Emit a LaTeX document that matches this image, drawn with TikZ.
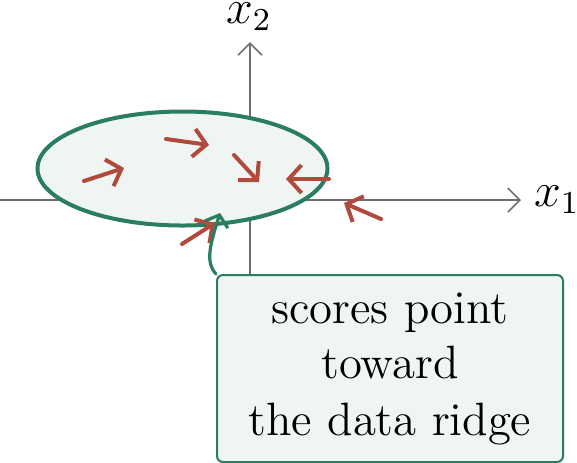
\documentclass[tikz,border=0pt]{standalone}
\usetikzlibrary{arrows.meta,shapes.geometric}
\definecolor{ridgegreen}{RGB}{42,125,94}
\definecolor{ridgefill}{RGB}{238,245,242}
\definecolor{scorered}{RGB}{176,74,60}
\definecolor{axisgray}{RGB}{110,110,110}
\tikzset{
  axisline/.style={draw=axisgray, line width=0.4pt, -{Straight Barb[length=3pt,width=6pt]}},
  axislabel/.style={font=\large, inner sep=0pt},
  scorearrow/.style={draw=scorered, line width=1pt, line cap=round, -{Straight Barb[length=3.2pt,width=7pt]}},
  ridge/.style={draw=ridgegreen, fill=ridgefill, line width=1pt, ellipse, inner sep=0pt,
    minimum width=72.5pt, minimum height=28.5pt},
  notebox/.style={draw=ridgegreen, fill=ridgefill, line width=0.5pt, rounded corners=1.5pt,
    minimum width=86.5pt, minimum height=46.75pt, align=center, font=\fontsize{11.7}{14}\selectfont, inner sep=0pt},
  pointer/.style={draw=ridgegreen, line width=0.8pt, line cap=round, -{Straight Barb[length=2.5pt,width=6pt]}}
}
\begin{document}
\begin{tikzpicture}[x=0.25pt,y=-0.25pt]
\useasboundingbox (0,0) rectangle (577,462);
% axes
\coordinate (xs) at (0,200);
\coordinate (xe) at (521,200);
\coordinate (ys) at (250,300);
\coordinate (ye) at (250,42);
\draw[axisline] (xs) -- (xe);
\draw[axisline] (ys) -- (ye);
\node[axislabel] (xone) at (557,200) {$x_1$};
\node[axislabel] (xtwo) at (249,17) {$x_2$};
% ridge
\node[ridge] (ridgeell) at (182.5,168.5) {};
% score arrows
\coordinate (a1s) at (84,181); \coordinate (a1e) at (124,168);
\coordinate (a2s) at (166,139); \coordinate (a2e) at (209,145);
\coordinate (a3s) at (234,155); \coordinate (a3e) at (259,182);
\coordinate (a4s) at (329,179); \coordinate (a4e) at (286,179);
\coordinate (a5s) at (381,219); \coordinate (a5e) at (344,203);
\coordinate (a6s) at (182,244); \coordinate (a6e) at (215,223);
\draw[scorearrow] (a1s) -- (a1e);
\draw[scorearrow] (a2s) -- (a2e);
\draw[scorearrow] (a3s) -- (a3e);
\draw[scorearrow] (a4s) -- (a4e);
\draw[scorearrow] (a5s) -- (a5e);
\draw[scorearrow] (a6s) -- (a6e);
% note box
\node[notebox] (note) at (390,368.5) {scores point\\toward\\the data ridge};
\coordinate (tip) at (220,213);
\draw[pointer] (note.north west) .. controls (205,262) and (210,245) .. (tip);
\end{tikzpicture}
\end{document}
